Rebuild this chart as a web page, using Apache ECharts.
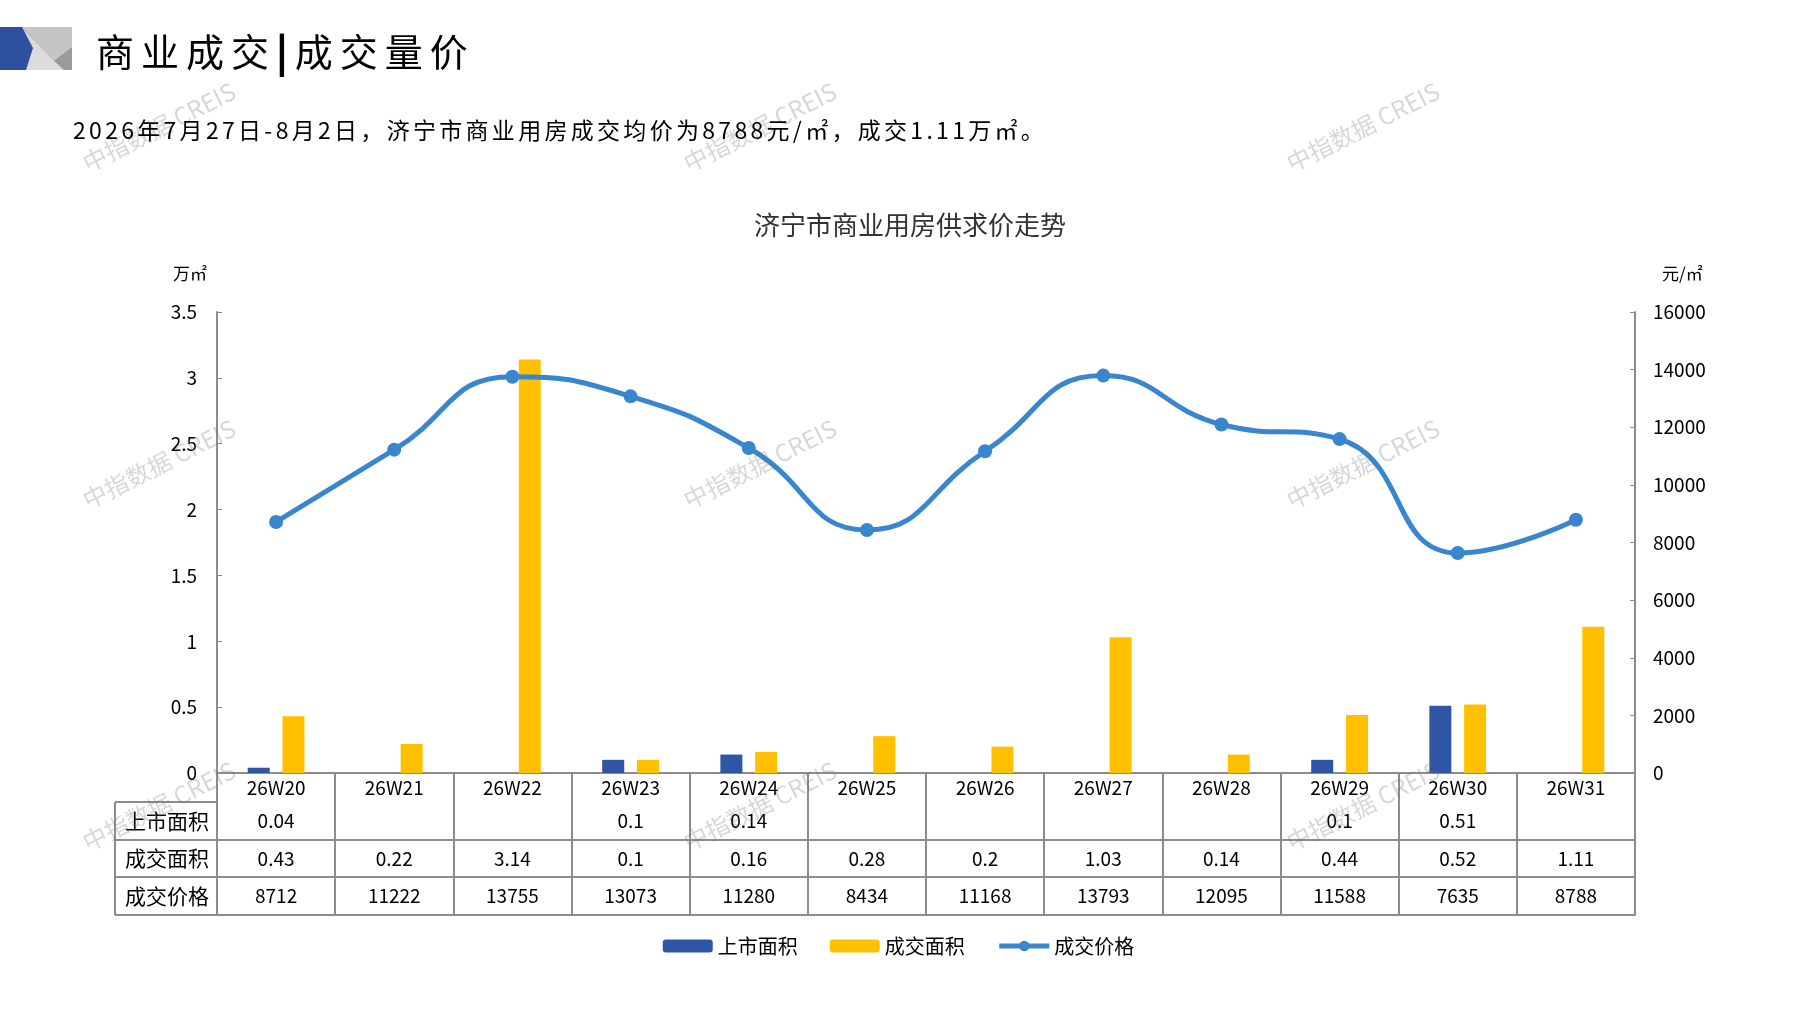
<!DOCTYPE html>
<html>
<head>
<meta charset="utf-8">
<title>商业成交|成交量价</title>
<script src="https://cdn.jsdelivr.net/npm/echarts@6/dist/echarts.min.js"></script>
<style>
html, body { margin: 0; padding: 0; background: #fff; }
#main { position: absolute; left: 0; top: 0; width: 1797px; height: 1010px; }
.head { position: absolute; font-family: "Noto Sans CJK SC", sans-serif; color: #000; white-space: nowrap; z-index: 2; }
#title { left: 96px; top: 26px; font-size: 38px; line-height: 48px; letter-spacing: 7px; }
#title b { font-weight: 900; }
#sub { left: 73px; top: 113px; font-size: 23px; line-height: 32px; letter-spacing: 3.3px; }
#logo { position: absolute; left: 0; top: 27px; z-index: 2; }
</style>
</head>
<body>
<div id="main"></div>
<svg id="logo" width="74" height="44" viewBox="0 0 74 44">
	<rect x="20" y="0" width="52" height="43" fill="#dcdcdc"/>
	<polygon points="20,0 72,0 72,20 55,35" fill="#c4c4c4"/>
	<polygon points="72,20 72,43 64,43 54,34" fill="#9a9a9a"/>
	<polygon points="0,0 22,0 33,21 26,43 0,43" fill="#2f4fa0"/>
</svg>
<div class="head" id="title">商业成交<b>|</b>成交量价</div>
<div class="head" id="sub">2026年7月27日-8月2日，济宁市商业用房成交均价为8788元/㎡，成交1.11万㎡。</div>
<script>
// 周次
var categories = ['26W20', '26W21', '26W22', '26W23', '26W24', '26W25', '26W26', '26W27', '26W28', '26W29', '26W30', '26W31'];
// 上市面积(万㎡)
var listedArea = [0.04, null, null, 0.1, 0.14, null, null, null, null, 0.1, 0.51, null];
// 成交面积(万㎡)
var dealArea = [0.43, 0.22, 3.14, 0.1, 0.16, 0.28, 0.2, 1.03, 0.14, 0.44, 0.52, 1.11];
// 成交价格(元/㎡)
var dealPrice = [8712, 11222, 13755, 13073, 11280, 8434, 11168, 13793, 12095, 11588, 7635, 8788];
var rowNames = ['上市面积', '成交面积', '成交价格'];

var fontCn = '"Noto Sans CJK SC", sans-serif';
var lineGray = '#8c8c8c';
var gridLeft = 217, gridRight = 162, gridTop = 312, gridBottom = 237;
var tableLeft = 115;
var rowOffsets = [29, 67, 104, 142];
var bottomY = 1010 - gridBottom;

var chart = echarts.init(document.getElementById('main'));

//表格行
function tableAxis(offset, list) {
	return {
		type: 'category',
		data: categories,
		position: 'bottom',
		offset: offset,
		axisLine: { show: true, lineStyle: { color: lineGray, width: 2 } },
		axisTick: { show: false },
		axisLabel: {
			show: !!list,
			interval: 0,
			margin: 9,
			color: '#000',
			fontSize: 19,
			fontFamily: fontCn,
			formatter: function(v, i) {
				if (!list) return '';
				var x = list[i];
				return x == null ? '' : String(x);
			}
		}
	};
}

//水印
var marks = [];
[127, 464, 806].forEach(function(y) {
	[159, 760, 1363].forEach(function(x) {
		marks.push({
			type: 'text',
			x: x,
			y: y,
			rotation: 26.7 * Math.PI / 180,
			z: 100,
			silent: true,
			style: {
				text: '中指数据 CREIS',
				fill: 'rgba(110,110,110,0.28)',
				font: '24px "Noto Sans CJK SC"',
				align: 'center',
				verticalAlign: 'middle'
			}
		});
	});
});

//表格左列: 边框和行名
var cellLines = [];
rowOffsets.forEach(function(o) {
	cellLines.push({
		type: 'line',
		shape: { x1: tableLeft, y1: bottomY + o, x2: gridLeft, y2: bottomY + o },
		style: { stroke: lineGray, lineWidth: 2 }
	});
});
cellLines.push({
	type: 'line',
	shape: { x1: tableLeft, y1: bottomY + rowOffsets[0], x2: tableLeft, y2: bottomY + rowOffsets[3] },
	style: { stroke: lineGray, lineWidth: 2 }
});
rowNames.forEach(function(n, i) {
	cellLines.push({
		type: 'text',
		x: gridLeft - 8,
		y: bottomY + (rowOffsets[i] + rowOffsets[i + 1]) / 2,
		style: {
			text: n,
			fill: '#000',
			font: '21px "Noto Sans CJK SC"',
			align: 'right',
			verticalAlign: 'middle'
		}
	});
});

chart.setOption({
	title: {
		text: '济宁市商业用房供求价走势',
		left: 905,
		textAlign: 'center',
		top: 207,
		textStyle: {
			color: '#333',
			fontSize: 26,
			fontWeight: 'normal',
			fontFamily: fontCn
		}
	},
	legend: {
		data: ['上市面积', '成交面积', '成交价格'],
		left: 'center',
		top: 931,
		itemWidth: 50,
		itemHeight: 13,
		itemGap: 32,
		lineStyle: { width: 5 },
		textStyle: {
			color: '#000',
			fontSize: 20,
			fontFamily: fontCn
		}
	},
	grid: {
		left: gridLeft,
		right: gridRight,
		top: gridTop,
		bottom: gridBottom
	},
	xAxis: [{
		type: 'category',
		data: categories,
		position: 'bottom',
		axisLine: { show: true, lineStyle: { color: lineGray, width: 2 } },
		axisTick: {
			show: true,
			interval: 0,
			alignWithLabel: false,
			length: rowOffsets[3],
			lineStyle: { color: lineGray, width: 2 }
		},
		axisLabel: {
			interval: 0,
			margin: 5,
			color: '#000',
			fontSize: 19,
			fontFamily: fontCn
		}
	},
		tableAxis(rowOffsets[0], listedArea),
		tableAxis(rowOffsets[1], dealArea),
		tableAxis(rowOffsets[2], dealPrice),
		tableAxis(rowOffsets[3], null)
	],
	yAxis: [{
		type: 'value',
		min: 0,
		max: 3.5,
		interval: 0.5,
		name: '万㎡',
		nameLocation: 'end',
		nameGap: 30,
		nameTextStyle: {
			color: '#000',
			fontSize: 17,
			fontFamily: fontCn,
			align: 'right',
			padding: [0, 10, 0, 0]
		},
		axisLine: { show: true, lineStyle: { color: lineGray, width: 2 } },
		axisTick: { show: true, inside: true, length: 5, lineStyle: { color: lineGray } },
		splitLine: { show: false },
		axisLabel: {
			margin: 20,
			color: '#000',
			fontSize: 19,
			fontFamily: fontCn
		}
	}, {
		type: 'value',
		min: 0,
		max: 16000,
		interval: 2000,
		name: '元/㎡',
		nameLocation: 'end',
		nameGap: 30,
		nameTextStyle: {
			color: '#000',
			fontSize: 17,
			fontFamily: fontCn,
			align: 'left',
			padding: [0, 0, 0, 27]
		},
		axisLine: { show: true, lineStyle: { color: lineGray, width: 2 } },
		axisTick: { show: true, inside: true, length: 5, lineStyle: { color: lineGray } },
		splitLine: { show: false },
		axisLabel: {
			margin: 18,
			color: '#000',
			fontSize: 19,
			fontFamily: fontCn,
			formatter: function(v) {
				return String(v);
			}
		}
	}],
	graphic: marks.concat(cellLines),
	series: [{
		name: '上市面积',
		type: 'bar',
		xAxisIndex: 0,
		yAxisIndex: 0,
		barWidth: 22,
		barGap: '58%',
		itemStyle: { color: '#2f56a5' },
		data: listedArea
	}, {
		name: '成交面积',
		type: 'bar',
		xAxisIndex: 0,
		yAxisIndex: 0,
		barWidth: 22,
		barGap: '58%',
		itemStyle: { color: '#ffc000' },
		data: dealArea
	}, {
		name: '成交价格',
		type: 'line',
		xAxisIndex: 0,
		yAxisIndex: 1,
		smooth: 0.5,
		symbol: 'circle',
		symbolSize: 14,
		itemStyle: { color: '#3a86ce' },
		lineStyle: { color: '#3a86ce', width: 5 },
		data: dealPrice
	}]
});
</script>
</body>
</html>
